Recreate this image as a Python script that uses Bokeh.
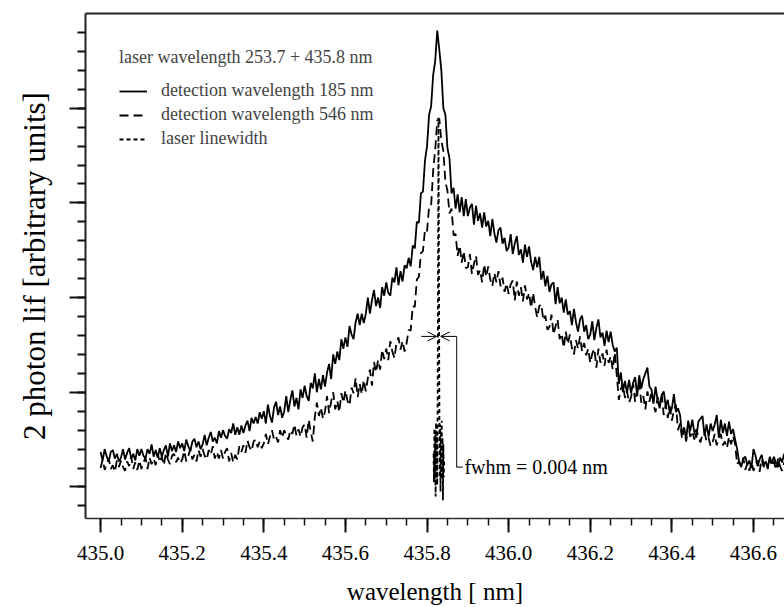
import numpy as np
from bokeh.plotting import figure
from bokeh.models import (Range1d, FixedTicker, LinearAxis, Legend, LegendItem,
                          Arrow, OpenHead, Label, NumeralTickFormatter)
from bokeh.embed import file_html
from bokeh.resources import INLINE

# ---------------- data ----------------
LAM_START = 435.0
LAM_STEP = 0.005

# detection wavelength 185 nm (solid)
int_185 = [
    0.37, 0.28, 0.40, 0.32, 0.27, 0.37, 0.39, 0.30, 0.35, 0.27,
    0.31, 0.40, 0.29, 0.36, 0.41, 0.30, 0.35, 0.28, 0.40, 0.33,
    0.40, 0.33, 0.30, 0.40, 0.35, 0.45, 0.32, 0.39, 0.31, 0.41,
    0.32, 0.39, 0.44, 0.32, 0.46, 0.38, 0.44, 0.37, 0.48, 0.41,
    0.46, 0.38, 0.50, 0.43, 0.38, 0.48, 0.51, 0.42, 0.48, 0.40,
    0.45, 0.55, 0.44, 0.52, 0.58, 0.48, 0.52, 0.46, 0.59, 0.52,
    0.60, 0.54, 0.51, 0.61, 0.57, 0.67, 0.55, 0.63, 0.55, 0.65,
    0.57, 0.65, 0.70, 0.59, 0.73, 0.67, 0.74, 0.67, 0.79, 0.72,
    0.80, 0.67, 0.87, 0.75, 0.68, 0.84, 0.90, 0.76, 0.85, 0.73,
    0.80, 0.96, 0.79, 0.92, 1.02, 0.85, 0.94, 0.82, 1.03, 0.94,
    1.07, 0.96, 0.91, 1.10, 1.04, 1.20, 1.00, 1.14, 1.03, 1.18,
    1.06, 1.21, 1.30, 1.14, 1.40, 1.30, 1.43, 1.34, 1.56, 1.46,
    1.58, 1.48, 1.70, 1.61, 1.56, 1.74, 1.83, 1.71, 1.83, 1.73,
    1.83, 2.00, 1.83, 1.97, 2.08, 1.91, 2.00, 1.89, 2.11, 2.02,
    2.16, 2.05, 2.02, 2.21, 2.16, 2.32, 2.13, 2.28, 2.17, 2.34,
    2.31, 2.42, 2.33, 2.55, 2.52, 2.80, 2.79, 3.10, 3.12, 3.45,
    3.60, 3.93, 4.02, 4.35, 4.50, 4.82, 4.62, 4.40, 4.00, 3.93,
    3.58, 3.47, 3.10, 3.16, 2.94, 3.09, 2.90, 3.06, 2.86, 3.04,
    2.86, 2.95, 2.99, 2.77, 2.97, 2.81, 2.89, 2.74, 2.90, 2.75,
    2.81, 2.65, 2.83, 2.68, 2.58, 2.71, 2.74, 2.57, 2.63, 2.49,
    2.53, 2.67, 2.46, 2.57, 2.65, 2.45, 2.51, 2.37, 2.56, 2.43,
    2.54, 2.38, 2.29, 2.43, 2.32, 2.43, 2.19, 2.28, 2.12, 2.23,
    2.06, 2.14, 2.16, 1.93, 2.11, 1.94, 2.00, 1.84, 1.98, 1.82,
    1.86, 1.71, 1.88, 1.74, 1.64, 1.77, 1.81, 1.64, 1.71, 1.56,
    1.61, 1.75, 1.55, 1.68, 1.77, 1.58, 1.63, 1.49, 1.65, 1.53,
    1.64, 1.50, 1.43, 1.47, 1.09, 1.21, 1.00, 1.12, 0.99, 1.13,
    0.99, 1.10, 1.16, 0.96, 1.18, 1.04, 1.14, 1.20, 1.26, 1.06,
    1.03, 0.88, 1.06, 0.92, 0.83, 0.97, 1.01, 0.85, 0.92, 0.78,
    0.83, 0.98, 0.79, 0.83, 0.76, 0.55, 0.63, 0.50, 0.70, 0.59,
    0.71, 0.58, 0.52, 0.69, 0.72, 0.75, 0.54, 0.66, 0.53, 0.67,
    0.59, 0.66, 0.76, 0.52, 0.71, 0.57, 0.67, 0.54, 0.69, 0.56,
    0.61, 0.50, 0.40, 0.26, 0.21, 0.30, 0.32, 0.23, 0.28, 0.20,
    0.40, 0.33, 0.22, 0.29, 0.34, 0.23, 0.27, 0.20, 0.32, 0.25,
    0.32, 0.25, 0.21, 0.31, 0.26, 0.35,
]

# detection wavelength 546 nm (dashed)
int_546 = [
    0.20, 0.29, 0.18, 0.25, 0.30, 0.19, 0.23, 0.16, 0.28, 0.21,
    0.28, 0.21, 0.17, 0.27, 0.22, 0.32, 0.19, 0.26, 0.18, 0.28,
    0.19, 0.26, 0.31, 0.19, 0.31, 0.24, 0.30, 0.23, 0.35, 0.26,
    0.32, 0.23, 0.36, 0.29, 0.24, 0.33, 0.35, 0.26, 0.31, 0.25,
    0.29, 0.38, 0.27, 0.33, 0.40, 0.29, 0.34, 0.27, 0.39, 0.32,
    0.40, 0.33, 0.29, 0.39, 0.34, 0.43, 0.30, 0.37, 0.30, 0.39,
    0.30, 0.37, 0.41, 0.27, 0.36, 0.26, 0.34, 0.29, 0.43, 0.37,
    0.44, 0.36, 0.49, 0.42, 0.38, 0.48, 0.50, 0.42, 0.48, 0.41,
    0.46, 0.56, 0.45, 0.53, 0.60, 0.50, 0.53, 0.47, 0.60, 0.52,
    0.60, 0.54, 0.50, 0.60, 0.56, 0.66, 0.54, 0.61, 0.53, 0.63,
    0.66, 0.52, 0.71, 0.58, 0.48, 0.74, 0.89, 0.75, 0.84, 0.72,
    0.80, 0.96, 0.78, 0.90, 1.00, 0.82, 0.91, 0.79, 0.99, 0.89,
    1.02, 0.91, 0.86, 1.05, 0.99, 1.15, 0.95, 1.09, 0.98, 1.13,
    1.01, 1.15, 1.24, 1.07, 1.32, 1.21, 1.34, 1.24, 1.45, 1.35,
    1.46, 1.34, 1.54, 1.43, 1.36, 1.52, 1.58, 1.45, 1.54, 1.43,
    1.52, 1.66, 1.65, 1.91, 1.90, 2.19, 2.22, 2.47, 2.49, 2.72,
    2.70, 2.96, 2.97, 3.34, 3.56, 3.87, 3.89, 3.66, 3.55, 3.22,
    3.13, 2.89, 2.94, 2.66, 2.67, 2.44, 2.55, 2.37, 2.49, 2.31,
    2.32, 2.46, 2.25, 2.36, 2.44, 2.24, 2.29, 2.16, 2.35, 2.22,
    2.33, 2.19, 2.12, 2.26, 2.16, 2.28, 2.12, 2.21, 2.06, 2.15,
    2.04, 2.14, 2.18, 1.97, 2.17, 2.02, 2.11, 1.96, 2.13, 1.98,
    2.05, 1.89, 2.05, 1.90, 1.79, 1.91, 1.93, 1.76, 1.81, 1.66,
    1.69, 1.82, 1.61, 1.70, 1.77, 1.56, 1.62, 1.47, 1.64, 1.51,
    1.61, 1.47, 1.40, 1.55, 1.46, 1.59, 1.43, 1.52, 1.39, 1.46,
    1.31, 1.41, 1.46, 1.26, 1.46, 1.31, 1.41, 1.28, 1.45, 1.31,
    1.38, 1.24, 1.42, 1.18, 0.92, 1.04, 1.09, 0.94, 1.02, 0.89,
    0.95, 1.09, 0.90, 1.02, 1.11, 0.89, 0.96, 0.82, 1.01, 0.90,
    1.01, 0.87, 0.79, 0.95, 0.86, 0.99, 0.76, 0.87, 0.73, 0.85,
    0.70, 0.81, 0.87, 0.60, 0.67, 0.51, 0.61, 0.48, 0.66, 0.53,
    0.59, 0.50, 0.61, 0.53, 0.47, 0.56, 0.58, 0.48, 0.52, 0.43,
    0.47, 0.56, 0.44, 0.51, 0.56, 0.44, 0.48, 0.41, 0.53, 0.45,
    0.54, 0.45, 0.24, 0.27, 0.22, 0.31, 0.18, 0.25, 0.17, 0.26,
    0.17, 0.24, 0.28, 0.16, 0.29, 0.21, 0.27, 0.19, 0.30, 0.22,
    0.27, 0.18, 0.30, 0.22, 0.17, 0.26,
]

# laser linewidth (short dashes)
lam_laser = [435.816, 435.817, 435.818, 435.819, 435.820, 435.821, 435.822,
             435.823, 435.824, 435.825, 435.826, 435.827, 435.828, 435.829,
             435.830, 435.831, 435.832, 435.833, 435.834, 435.835, 435.836,
             435.837, 435.838, 435.839, 435.840, 435.841, 435.842]
int_laser = [0.35, 0.05, 0.62, 0.12, 0.55, -0.10, 0.68,
             0.20, 0.58, 0.02, 0.95, 2.40, 3.90, 2.55,
             1.05, 0.10, 0.66, -0.05, 0.60, 0.15, 0.70,
             0.08, 0.52, -0.14, 0.45, 0.10, 0.30]

x_major_ticks = [435.0, 435.2, 435.4, 435.6, 435.8, 436.0, 436.2, 436.4, 436.6]
x_minor_ticks = [round(435.0 + 0.05 * k, 2) for k in range(34)]
y_major_ticks = [0, 1, 2, 3, 4]
y_minor_ticks = [round(-0.2 + 0.2 * k, 1) for k in range(26)]

legend_title = "laser wavelength 253.7 + 435.8 nm"
series_labels = ["detection wavelength 185 nm",
                 "detection wavelength 546 nm",
                 "laser linewidth"]

fwhm_text = "fwhm = 0.004 nm"
FWHM_LEVEL = 1.59
ARROW_L = (435.786, 435.8235)
ARROW_R = (435.8725, 435.8335)
BRACKET_BOTTOM = 0.21
BRACKET_END = 435.8875
TEXT_X = 435.8915

lam_185 = LAM_START + LAM_STEP * np.arange(len(int_185))
lam_546 = LAM_START + LAM_STEP * np.arange(len(int_546))

# ---------------- figure ----------------
FONT = "Liberation Serif"

p = figure(width=784, height=607,
           x_range=Range1d(434.963, 436.676), y_range=Range1d(-0.333, 5.0),
           output_backend="svg", toolbar_location=None,
           min_border_left=85, min_border_right=0, min_border_top=13,
           min_border_bottom=88,
           x_axis_label="wavelength [ nm]",
           y_axis_label="2 photon lif [arbitrary units]")
p.outline_line_color = None
p.xgrid.grid_line_color = None
p.ygrid.grid_line_color = None
p.background_fill_color = "white"
p.border_fill_color = "white"

xa = p.xaxis[0]
xa.ticker = FixedTicker(ticks=x_major_ticks, minor_ticks=x_minor_ticks)
xa.formatter = NumeralTickFormatter(format="0.0")
xa.major_tick_in = 0
xa.minor_tick_in = 0
xa.major_tick_out = 14
xa.minor_tick_out = 7
xa.major_tick_line_width = 2
xa.minor_tick_line_width = 1.5
xa.major_tick_line_color = "#111111"
xa.minor_tick_line_color = "#111111"
xa.axis_line_width = 1.5
xa.axis_line_color = "#333333"
xa.major_label_text_font = FONT
xa.major_label_text_font_size = "21px"
xa.major_label_text_color = "black"
xa.major_label_standoff = 13
xa.axis_label_text_font = FONT
xa.axis_label_text_font_size = "25px"
xa.axis_label_text_font_style = "normal"
xa.axis_label_text_color = "black"
xa.axis_label_standoff = 15

ya = p.yaxis[0]
ya.ticker = FixedTicker(ticks=y_major_ticks, minor_ticks=y_minor_ticks)
ya.major_label_overrides = {t: "" for t in y_major_ticks}
ya.major_tick_in = 0
ya.minor_tick_in = 0
ya.major_tick_out = 16
ya.minor_tick_out = 8
ya.major_tick_line_width = 2
ya.minor_tick_line_width = 2
ya.major_tick_line_color = "#111111"
ya.minor_tick_line_color = "#111111"
ya.axis_line_width = 2
ya.axis_line_color = "#222222"
ya.major_label_standoff = 0
ya.axis_label_text_font = FONT
ya.axis_label_text_font_size = "31px"
ya.axis_label_text_font_style = "normal"
ya.axis_label_text_color = "black"
ya.axis_label_standoff = 18

top = LinearAxis(ticker=FixedTicker(ticks=[]), major_tick_out=0, minor_tick_out=0,
                 major_tick_in=0, minor_tick_in=0, major_label_standoff=0,
                 axis_line_width=2, axis_line_color="#222222")
p.add_layout(top, "above")

r185 = p.line(lam_185, int_185, line_color="black", line_width=1.8)
r546 = p.line(lam_546, int_546, line_color="black", line_width=1.8, line_dash="9 5")
rlas = p.line(lam_laser, int_laser, line_color="black", line_width=1.8, line_dash="4 3")

legend = Legend(items=[LegendItem(label=series_labels[0], renderers=[r185]),
                       LegendItem(label=series_labels[1], renderers=[r546]),
                       LegendItem(label=series_labels[2], renderers=[rlas])],
                title=legend_title, location="top_left", margin=34, padding=0,
                spacing=3, title_standoff=12, label_standoff=14,
                glyph_width=28, glyph_height=20, label_height=20,
                border_line_color=None, background_fill_alpha=0,
                label_text_font=FONT, label_text_font_size="18px",
                title_text_font=FONT, title_text_font_size="18px",
                title_text_font_style="normal")
p.add_layout(legend)

p.add_layout(Arrow(end=OpenHead(size=9, line_width=1), x_start=ARROW_L[0], y_start=FWHM_LEVEL,
                   x_end=ARROW_L[1], y_end=FWHM_LEVEL, line_width=1))
p.add_layout(Arrow(end=OpenHead(size=9, line_width=1), x_start=ARROW_R[0], y_start=FWHM_LEVEL,
                   x_end=ARROW_R[1], y_end=FWHM_LEVEL, line_width=1))
p.line([ARROW_R[0], ARROW_R[0], BRACKET_END], [FWHM_LEVEL, BRACKET_BOTTOM, BRACKET_BOTTOM],
       line_color="#333333", line_width=1.2)
p.add_layout(Label(x=TEXT_X, y=BRACKET_BOTTOM, text=fwhm_text, text_font=FONT,
                   text_font_size="20px", text_baseline="middle", text_color="black"))

open("out.html", "w").write(file_html(p, INLINE))
